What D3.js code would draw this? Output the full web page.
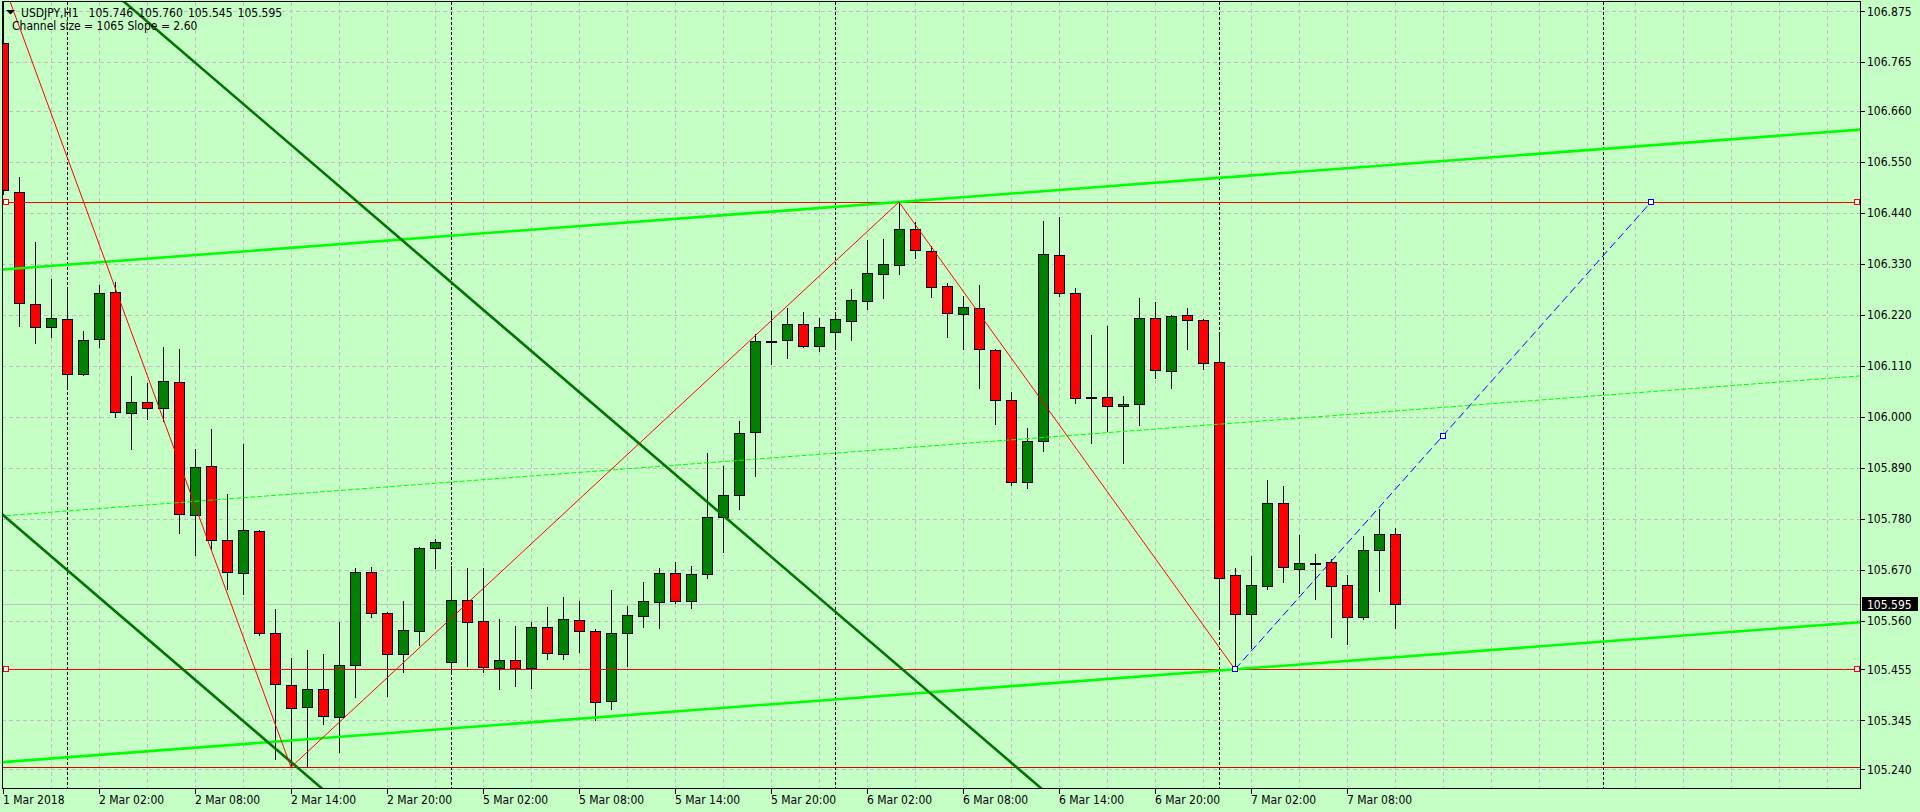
<!DOCTYPE html>
<html><head><meta charset="utf-8">
<script src="https://cdn.jsdelivr.net/npm/d3@7"></script>
<style>
html,body{margin:0;padding:0;background:#c6ffc6;overflow:hidden}
svg{display:block}
text{font-family:'DejaVu Sans Condensed','DejaVu Sans',sans-serif;font-stretch:condensed;font-size:12px;fill:#000}
.hdr{white-space:pre;word-spacing:1.6px}
</style></head><body>
<svg id="chart" width="1920" height="812"></svg>
<script>
// ---- data (USDJPY H1, bar 0 = 1 Mar 2018 20:00) ----
const openP = [106.805,106.485,106.242,106.194,106.210,106.091,106.167,106.268,106.007,106.032,
106.018,106.075,105.787,105.893,105.735,105.663,105.753,105.533,105.421,105.373,
105.412,105.352,105.464,105.664,105.576,105.487,105.538,105.716,105.470,105.604,
105.559,105.457,105.475,105.457,105.546,105.487,105.561,105.538,105.387,105.533,
105.571,105.601,105.662,105.603,105.660,105.784,105.832,105.966,106.164,106.165,
106.199,106.153,106.182,106.207,106.250,106.308,106.328,106.404,106.357,106.282,
106.221,106.234,106.143,106.037,105.858,105.948,106.348,106.266,106.042,106.042,
106.023,106.027,106.212,106.098,106.219,106.208,106.117,105.658,105.574,105.635,
105.813,105.671,105.685,105.686,105.636,105.567,105.712,105.746];
const highP = [106.937,106.518,106.376,106.297,106.273,106.185,106.284,106.290,106.088,106.072,
106.150,106.145,105.930,105.973,105.833,105.941,105.755,105.585,105.480,105.497,
105.488,105.558,105.673,105.676,105.578,105.602,105.718,105.736,105.678,105.673,
105.673,105.564,105.549,105.558,105.590,105.610,105.602,105.542,105.626,105.592,
105.644,105.673,105.687,105.678,105.922,105.894,105.991,106.178,106.228,106.235,
106.225,106.212,106.221,106.275,106.381,106.383,106.463,106.419,106.368,106.288,
106.260,106.284,106.147,106.054,105.976,106.421,106.431,106.277,106.176,106.196,
106.045,106.255,106.247,106.219,106.235,106.211,106.182,105.674,105.699,105.863,
105.851,105.745,105.704,105.692,105.658,105.742,105.801,105.760];
const lowP = [106.480,106.196,106.158,106.172,106.061,106.089,106.151,106.000,105.930,105.996,
105.991,105.750,105.702,105.712,105.628,105.617,105.529,105.262,105.244,105.247,
105.336,105.277,105.396,105.568,105.398,105.450,105.507,105.674,105.452,105.463,
105.449,105.413,105.420,105.414,105.477,105.477,105.493,105.346,105.369,105.463,
105.547,105.545,105.597,105.588,105.653,105.709,105.800,105.873,106.114,106.127,
106.150,106.142,106.151,106.165,106.232,106.257,106.307,106.342,106.259,106.172,
106.146,106.062,105.984,105.853,105.847,105.927,106.261,106.029,105.943,105.968,
105.899,105.981,106.083,106.061,106.147,106.102,105.543,105.455,105.502,105.628,
105.644,105.620,105.607,105.525,105.509,105.563,105.625,105.545];
const closeP = [106.489,106.245,106.194,106.212,106.091,106.165,106.266,106.009,106.032,106.018,
106.077,105.789,105.891,105.735,105.666,105.755,105.533,105.423,105.371,105.412,
105.354,105.464,105.666,105.576,105.487,105.540,105.716,105.729,105.604,105.556,
105.459,105.475,105.457,105.546,105.490,105.564,105.538,105.385,105.533,105.572,
105.602,105.662,105.603,105.660,105.784,105.832,105.964,106.163,106.164,106.199,
106.153,106.193,106.210,106.252,106.309,106.329,106.404,106.359,106.279,106.223,
106.236,106.145,106.036,105.858,105.948,106.350,106.266,106.041,106.042,106.023,
106.027,106.212,106.101,106.217,106.208,106.115,105.653,105.574,105.636,105.813,
105.675,105.684,105.685,105.635,105.567,105.712,105.746,105.595];

const yTicks = [106.875,106.765,106.660,106.550,106.440,106.330,106.220,106.110,106.000,
105.890,105.780,105.670,105.560,105.455,105.345,105.240];
const xTickBars = [0,6,12,18,24,30,36,42,48,54,60,66,72,78,84];
const xTickLabels = ["1 Mar 2018","2 Mar 02:00","2 Mar 08:00","2 Mar 14:00","2 Mar 20:00",
"5 Mar 02:00","5 Mar 08:00","5 Mar 14:00","5 Mar 20:00","6 Mar 02:00","6 Mar 08:00",
"6 Mar 14:00","6 Mar 20:00","7 Mar 02:00","7 Mar 08:00"];
const separatorBars = [4,28,52,76,100];           // day starts
const levelPrices = [106.463,105.455,105.244];     // horizontal lines
const levelMarked = [true,true,false];
const zigzagBars = [0,18,56,77];
const zigzagPrices = [106.937,105.244,106.463,105.455];
const projBars = [77,90,103];
const projPrices = [105.455,105.959,106.463];
const channelSlope = 0.0026;                       // price per bar
const channelUpper = [56,106.463];
const channelLower = [77,105.455];
const downSlope = -0.0296;
const downUpper = [0,107.119];
const downLower = [0,105.788];
const headerLine1 = "USDJPY,H1  105.746 105.760 105.545 105.595";
const headerLine2 = "Channel size = 1065 Slope = 2.60";

// ---- layout ----
const svg = d3.select('#chart');
const P = {left:2, top:2, right:1860, bottom:788};
const x = d3.scaleLinear().domain([0,116.0625]).range([3,1860]);
const y = d3.scaleLinear().domain([105.240,106.875]).range([769,11]);
const px = v => Math.round(x(v)) + 0.5;
const py = v => Math.round(y(v)) + 0.5;

svg.append('rect').attr('width',1920).attr('height',812).attr('fill','#c6ffc6');

svg.append('defs').append('clipPath').attr('id','clip')
  .append('rect').attr('x',P.left+1).attr('y',P.top).attr('width',P.right-P.left-1).attr('height',P.bottom-P.top);

const gGrid = svg.append('g').attr('clip-path','url(#clip)');
gGrid.selectAll('line.h').data(yTicks).join('line')
  .attr('x1',P.left).attr('x2',P.right).attr('y1',d=>py(d)).attr('y2',d=>py(d))
  .attr('stroke','#c0c0c0').attr('stroke-dasharray','4,3');
gGrid.selectAll('line.v').data(d3.range(3,116,3)).join('line')
  .attr('x1',d=>px(d)).attr('x2',d=>px(d)).attr('y1',P.top).attr('y2',P.bottom)
  .attr('stroke','#c0c0c0').attr('stroke-dasharray','4,3');

// period separators
gGrid.selectAll('line.sep').data(separatorBars).join('line')
  .attr('x1',d=>px(d)).attr('x2',d=>px(d)).attr('y1',P.top).attr('y2',P.bottom)
  .attr('stroke','#000').attr('stroke-dasharray','3,2');

// bid line
const last = closeP.length-1;
gGrid.append('line').attr('x1',P.left).attr('x2',P.right)
  .attr('y1',py(closeP[last])).attr('y2',py(closeP[last])).attr('stroke','#c0c0c0');

// candles
const gC = svg.append('g').attr('clip-path','url(#clip)');
const idx = d3.range(openP.length);
gC.selectAll('line.w').data(idx).join('line')
  .attr('x1',i=>px(i)).attr('x2',i=>px(i))
  .attr('y1',i=>Math.round(y(highP[i]))).attr('y2',i=>Math.round(y(lowP[i]))+1)
  .attr('stroke','#000');
gC.selectAll('rect.b').data(idx).join('rect')
  .attr('x',i=>Math.round(x(i))-4.5).attr('width',10)
  .attr('y',i=>Math.round(y(Math.max(openP[i],closeP[i])))+0.5)
  .attr('height',i=>Math.max(1,Math.round(y(Math.min(openP[i],closeP[i])))-Math.round(y(Math.max(openP[i],closeP[i])))))
  .attr('fill',i=>closeP[i]>openP[i]?'#008000':(closeP[i]<openP[i]?'#ff0000':'#000'))
  .attr('stroke','#000');

// objects
const gO = svg.append('g').attr('clip-path','url(#clip)');
const xs = [-2,118];
const lineGen = d3.line().x(d=>x(d[0])).y(d=>y(d[1]));
// horizontal levels
gO.selectAll('line.lv').data(levelPrices).join('line')
  .attr('x1',P.left).attr('x2',P.right).attr('y1',d=>py(d)).attr('y2',d=>py(d))
  .attr('stroke',(d,i)=>levelMarked[i]?'#ff0000':'#dd0000');
levelPrices.forEach((v,i)=>{
  if(!levelMarked[i]) return;
  [x.invert(P.left+3.5), x.invert(P.right-3.5)].forEach(b=>{
    gO.append('rect').attr('x',Math.round(x(b))-2.5).attr('y',Math.round(y(v))-2.5)
      .attr('width',5).attr('height',5).attr('fill','#fff').attr('stroke','#ff0000');
  });
});
// channel
const chan = (a,s)=>xs.map(b=>[b,a[1]+s*(b-a[0])]);
const mid = [channelUpper[0], (channelUpper[1] + channelLower[1] + channelSlope*(channelUpper[0]-channelLower[0]))/2];
gO.append('path').attr('d',lineGen(chan(mid,channelSlope))).attr('fill','none')
  .attr('stroke','#00ff00').attr('stroke-width',1).attr('stroke-dasharray','5,2');
[channelUpper,channelLower].forEach(a=>{
  gO.append('path').attr('d',lineGen(chan(a,channelSlope))).attr('fill','none')
    .attr('stroke','#00ff00').attr('stroke-width',2.6);
});
// down channel
[downUpper,downLower].forEach(a=>{
  gO.append('path').attr('d',lineGen(chan(a,downSlope))).attr('fill','none')
    .attr('stroke','#007400').attr('stroke-width',2.6);
});
// zigzag
gO.append('path').attr('d',lineGen(zigzagBars.map((b,i)=>[b,zigzagPrices[i]])))
  .attr('fill','none').attr('stroke','#ff0000').attr('stroke-width',1);
// projection
gO.append('path').attr('d',lineGen([[projBars[0],projPrices[0]],[projBars[2],projPrices[2]]]))
  .attr('fill','none').attr('stroke','#0000ff').attr('stroke-width',1).attr('stroke-dasharray','8,4');
gO.selectAll('rect.pm').data(projBars).join('rect')
  .attr('x',(d)=>Math.round(x(d))-2.5).attr('y',(d,i)=>Math.round(y(projPrices[i]))-2.5)
  .attr('width',5).attr('height',5).attr('fill','#fff').attr('stroke','#0000ff');

// frame
svg.append('rect').attr('x',P.left+0.5).attr('y',P.top-0.5).attr('width',P.right-P.left)
  .attr('height',P.bottom-P.top+1).attr('fill','none').attr('stroke','#000');

// right axis
const gY = svg.append('g');
gY.selectAll('line').data(yTicks).join('line')
  .attr('x1',P.right+1).attr('x2',P.right+5).attr('y1',d=>py(d)).attr('y2',d=>py(d)).attr('stroke','#000');
gY.selectAll('text').data(yTicks).join('text')
  .attr('x',P.right+7).attr('y',d=>y(d)+4.5).text(d=>d.toFixed(3));
// current price label
gY.append('rect').attr('x',P.right+2).attr('y',Math.round(y(closeP[last]))-7)
  .attr('width',56).attr('height',14).attr('fill','#000');
gY.append('text').attr('x',P.right+7).attr('y',y(closeP[last])+4.5)
  .style('fill','#fff').text(closeP[last].toFixed(3));

// bottom axis
const gX = svg.append('g');
gX.selectAll('line').data(xTickBars).join('line')
  .attr('x1',d=>px(d)).attr('x2',d=>px(d)).attr('y1',P.bottom+1).attr('y2',P.bottom+6).attr('stroke','#000');
gX.selectAll('text').data(xTickBars).join('text')
  .attr('x',d=>Math.round(x(d))).attr('y',P.bottom+16).text((d,i)=>xTickLabels[i]);

// header
svg.append('path').attr('d','M6,10 L15,10 L10.5,14.5 Z').attr('fill','#000');
svg.append('text').attr('class','hdr').attr('x',21).attr('y',17).text(headerLine1);
svg.append('text').attr('x',12).attr('y',29.5).text(headerLine2);
</script>
</body></html>
